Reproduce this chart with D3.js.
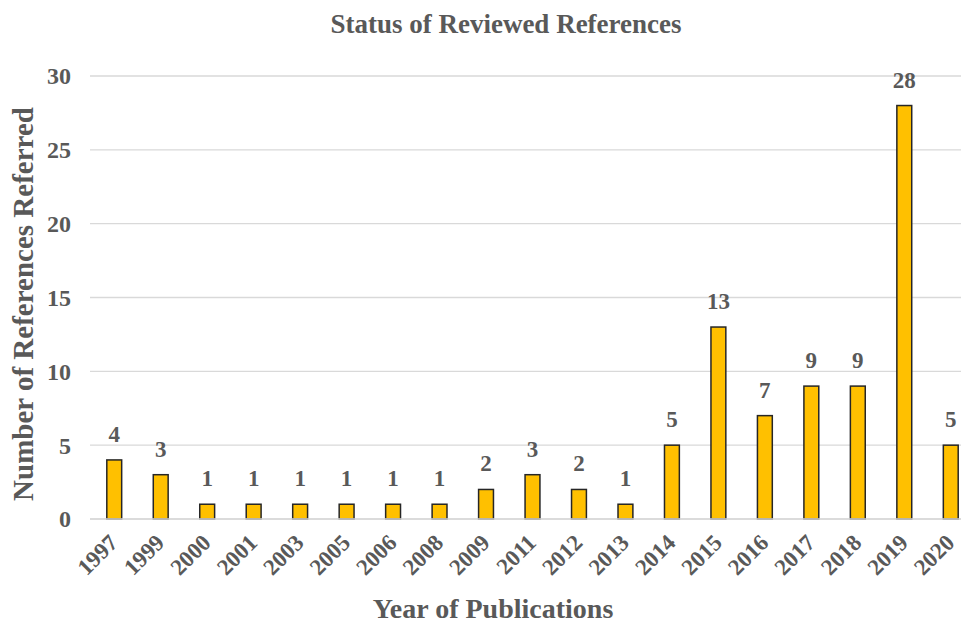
<!DOCTYPE html>
<html><head><meta charset="utf-8">
<script src="https://cdn.jsdelivr.net/npm/d3@7"></script>
<style>body{margin:0;background:#fff}svg{display:block}text{font-family:"Liberation Serif","Times New Roman",serif;font-weight:bold;fill:#595959}</style>
</head><body><svg id="c" width="961" height="623"></svg>
<script>
const years = ["1997","1999","2000","2001","2003","2005","2006","2008","2009","2011","2012","2013","2014","2015","2016","2017","2018","2019","2020"];
const counts = [4,3,1,1,1,1,1,1,2,3,2,1,5,13,7,9,9,28,5];
const yTicks = [0,5,10,15,20,25,30];
const title = "Status of Reviewed References";
const xTitle = "Year of Publications";
const yTitle = "Number of References Referred";

const svg = d3.select("#c");
const W = 961, H = 623;
const mLeft = 91, mRight = 974, mTop = 76, mBottom = 519;
const x = d3.scaleBand().domain(years).range([mLeft, mRight]).paddingInner(0.68).paddingOuter(0.34);
const y = d3.scaleLinear().domain([0, 30]).range([mBottom, mTop]);

// grid
svg.append("g").selectAll("line").data(yTicks).join("line")
  .attr("x1", 90).attr("x2", W).attr("y1", d => y(d)).attr("y2", d => y(d))
  .attr("stroke", "#d9d9d9").attr("stroke-width", 1.3);

// y axis labels
const ya = svg.append("g").attr("transform", `translate(${71},0)`)
  .call(d3.axisLeft(y).tickValues(yTicks).tickSize(0).tickPadding(0));
ya.select(".domain").remove();
ya.selectAll("text").style("font-size", "24px").attr("fill", "#595959")
  .style("font-family", '"Liberation Serif",serif').style("font-weight", "bold").attr("dy", "0.33em");

// bars
svg.append("g").selectAll("rect").data(years).join("rect")
  .attr("x", d => x(d)).attr("width", x.bandwidth())
  .attr("y", (d, i) => y(counts[i])).attr("height", (d, i) => y(0) - y(counts[i]))
  .attr("fill", "#FFC000").attr("stroke", "#262626").attr("stroke-width", 1.5);

// baseline
svg.append("line").attr("x1", 90).attr("x2", W).attr("y1", y(0)).attr("y2", y(0))
  .attr("stroke", "#d9d9d9").attr("stroke-width", 1.3);

// value labels
svg.append("g").selectAll("text").data(years).join("text")
  .attr("x", d => x(d) + x.bandwidth() / 2)
  .attr("y", (d, i) => y(counts[i]) - 18)
  .attr("text-anchor", "middle").style("font-size", "23px")
  .text((d, i) => counts[i]);

// x axis labels
const xa = svg.append("g").attr("transform", `translate(0,${mBottom})`)
  .call(d3.axisBottom(x).tickSize(0).tickPadding(0));
xa.select(".domain").remove();
xa.selectAll("text").style("font-size", "23px").attr("fill", "#595959")
  .style("font-family", '"Liberation Serif",serif').style("font-weight", "bold")
  .attr("text-anchor", "end").attr("dy", null)
  .attr("transform", "translate(5,25) rotate(-45)");

// titles
svg.append("text").attr("x", 506).attr("y", 33).attr("text-anchor", "middle")
  .style("font-size", "27px").text(title);
svg.append("text").attr("x", 493).attr("y", 618).attr("text-anchor", "middle")
  .style("font-size", "28px").text(xTitle);
svg.append("text").attr("transform", `translate(33,304) rotate(-90)`).attr("text-anchor", "middle")
  .style("font-size", "29px").text(yTitle);
</script></body></html>
